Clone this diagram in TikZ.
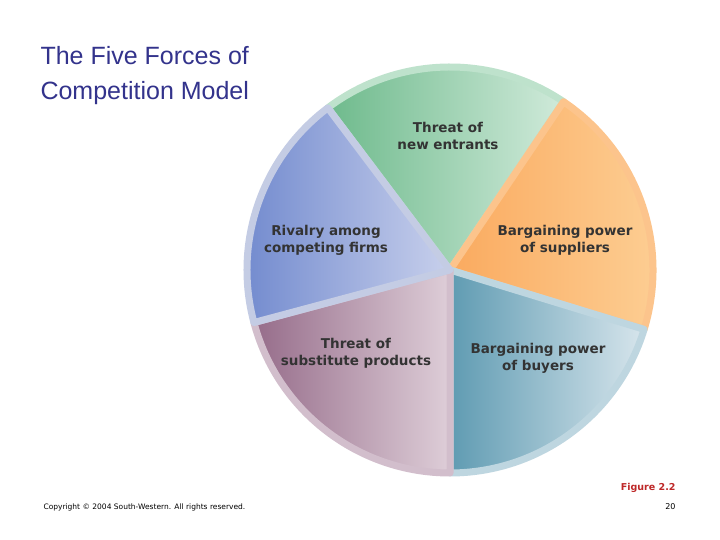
\documentclass[tikz,border=0pt]{standalone}
\usepackage{fontspec}
\setmainfont{DejaVu Sans}
\newfontfamily\titlefont{Liberation Sans}
\definecolor{gD}{RGB}{110,186,140}\definecolor{gL}{RGB}{208,234,218}\definecolor{gR}{RGB}{190,226,204}
\definecolor{oD}{RGB}{250,170,95}\definecolor{oL}{RGB}{253,208,150}\definecolor{oR}{RGB}{252,196,140}
\definecolor{tD}{RGB}{95,155,178}\definecolor{tL}{RGB}{215,229,236}\definecolor{tR}{RGB}{190,214,224}
\definecolor{pD}{RGB}{150,108,138}\definecolor{pL}{RGB}{222,206,216}\definecolor{pR}{RGB}{210,190,204}
\definecolor{bD}{RGB}{110,135,205}\definecolor{bL}{RGB}{200,208,236}\definecolor{bR}{RGB}{196,204,228}
\begin{document}
\begin{tikzpicture}[x=1pt,y=1pt,
  lbl/.style={font=\fontsize{13.5}{17}\selectfont\bfseries, text=black!80, align=center},
  rim/.style={line width=7pt, line join=round}]
\useasboundingbox[fill=white] (0,0) rectangle (720,540);
\coordinate (c) at (450,270);
\def\R{203}
\begin{scope}[shift={(91:5)}]
\fill[rim, draw=gR, left color=gD, right color=gL] (c) -- ++(56:\R) arc (56:127:\R) -- cycle;
\end{scope}
\begin{scope}[shift={(20:6)}]
\fill[rim, draw=oR, left color=oD, right color=oL] (c) -- ++(-17:\R) arc (-17:56:\R) -- cycle;
\end{scope}
\begin{scope}[shift={(-53:6)}]
\fill[rim, draw=tR, left color=tD, right color=tL] (c) -- ++(-90:\R) arc (-90:-17:\R) -- cycle;
\end{scope}
\begin{scope}[shift={(232:6)}]
\fill[rim, draw=pR, left color=pD, right color=pL] (c) -- ++(195:\R) arc (195:270:\R) -- cycle;
\end{scope}
\begin{scope}[shift={(161:6)}]
\fill[rim, draw=bR, left color=bD, right color=bL] (c) -- ++(127:\R) arc (127:195:\R) -- cycle;
\end{scope}
\node[lbl] (t1) at (448,404) {Threat of\\new entrants};
\node[lbl] (t2) at (565,300) {Bargaining power\\of suppliers};
\node[lbl] (t3) at (326,300) {Rivalry among\\competing firms};
\node[lbl] (t4) at (356,187) {Threat of\\substitute products};
\node[lbl] (t5) at (538,182) {Bargaining power\\of buyers};
\node[anchor=north west, align=left, text={rgb,255:red,51;green,51;blue,140}, font=\titlefont\fontsize{25}{35}\selectfont] (title) at (37,497) {The Five Forces of\\Competition Model};
\node[anchor=west, font=\fontsize{7.5}{10}\selectfont] (copy) at (40,33) {Copyright © 2004 South-Western. All rights reserved.};
\node[anchor=east, font=\fontsize{9.5}{12}\selectfont\bfseries, text={rgb,255:red,190;green,40;blue,40}] (fig) at (679,52) {Figure 2.2};
\node[anchor=east, font=\fontsize{8}{10}\selectfont] (pg) at (679,33) {20};
\end{tikzpicture}
\end{document}
